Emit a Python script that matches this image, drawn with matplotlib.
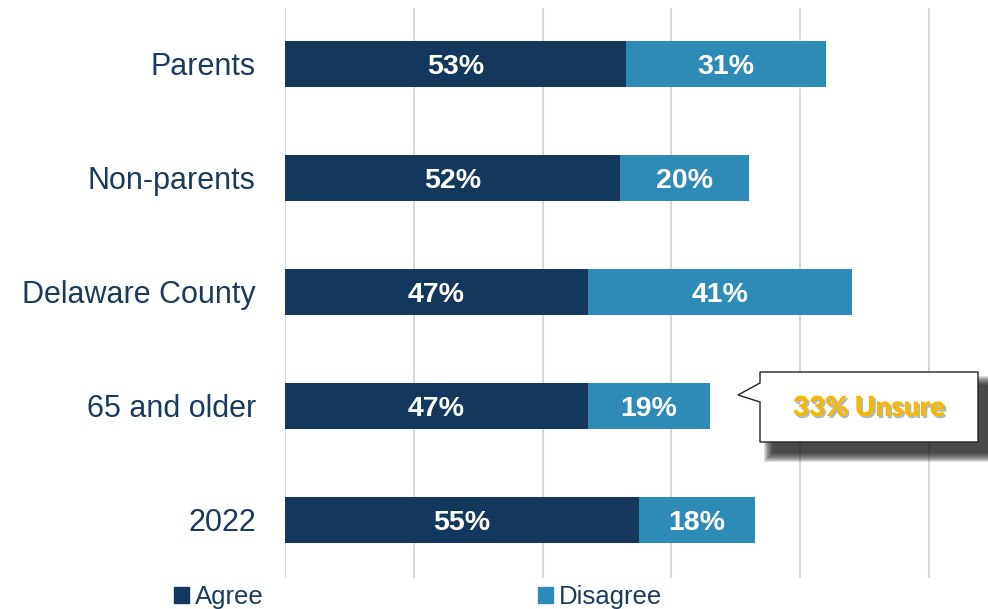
import matplotlib.pyplot as plt
import matplotlib.patches as mpatches
import matplotlib.patheffects as pe

# data
groups = ['Parents', 'Non-parents', 'Delaware County', '65 and older', '2022']
agree = [53, 52, 47, 47, 55]
disagree = [31, 20, 41, 19, 18]
unsure_note = '33% Unsure'

navy = '#14375E'
blue = '#2E8BB8'
label_col = '#1B3A5C'

plt.rcParams['font.family'] = ['Liberation Sans', 'DejaVu Sans']

W, H = 988, 609
fig = plt.figure(figsize=(W / 100, H / 100), dpi=100)
ax = fig.add_axes([285 / W, 1 - 578 / H, (985 - 285) / W, 570 / H])

y = list(range(len(groups)))
ax.barh(y, agree, height=0.40, color=navy, label='Agree')
ax.barh(y, disagree, left=agree, height=0.40, color=blue, label='Disagree')

for i in y:
    ax.text(agree[i] / 2, i, f'{agree[i]}%', color='white', fontsize=20.5,
            fontweight='bold', ha='center', va='center_baseline')
    ax.text(agree[i] + disagree[i] / 2, i, f'{disagree[i]}%', color='white',
            fontsize=20.5, fontweight='bold', ha='center', va='center_baseline')

ax.set_xlim(0, 700 / 6.44)
ax.set_ylim(4.509, -0.491)
ax.set_xticks([0, 20, 40, 60, 80, 100])
ax.set_xticklabels([])
ax.xaxis.grid(True, color='#D9D9D9', linewidth=1.5)
ax.set_axisbelow(True)
ax.tick_params(length=0)
ax.set_yticks(y)
ax.set_yticklabels(groups, fontsize=22, color=label_col, va='center_baseline')
ax.tick_params(axis='y', pad=21)
for s in ax.spines.values():
    s.set_visible(False)

# legend, one entry each
h_a = mpatches.Patch(color=navy)
h_d = mpatches.Patch(color=blue)
for h, lab, x in [(h_a, 'Agree', 174), (h_d, 'Disagree', 538)]:
    fig.legend([h], [lab], loc='center left', bbox_to_anchor=(x / W, 1 - 597 / H),
               frameon=False, fontsize=18.5, handlelength=0.6, handleheight=0.6,
               handletextpad=0.2, borderpad=0, borderaxespad=0,
               labelcolor=label_col)

# callout with shadow
bx0, bx1, by0, by1 = 760, 978, 372, 442
tip = (738, 395)
pts = [(bx0, by0), (bx1, by0), (bx1, by1), (bx0, by1), (bx0, 402), tip, (bx0, 383)]
def tofig(p):
    return (p[0] / W, 1 - p[1] / H)

for k in range(10):
    g = 10 - k
    sh = [(bx0 + 14 - g, by0 + 14 - g), (bx1 + 9 + g, by0 + 14 - g),
          (bx1 + 9 + g, by1 + 10 + g), (bx0 + 14 - g, by1 + 10 + g)]
    fig.patches.append(mpatches.Polygon([tofig(p) for p in sh], closed=True,
                                        transform=fig.transFigure,
                                        facecolor='#1a1a1a', edgecolor='none',
                                        alpha=0.14))
fig.patches.append(mpatches.Polygon([tofig(p) for p in pts], closed=True,
                                    transform=fig.transFigure, facecolor='white',
                                    edgecolor='#222222', linewidth=1.0))
fig.text((bx0 + bx1) / 2 / W, 1 - 408 / H, unsure_note, ha='center',
         va='center', fontsize=20, fontweight='heavy', color='#F5B700',
         family=['Lato', 'DejaVu Sans'],
         path_effects=[pe.SimplePatchShadow(offset=(1.5, -1.5), shadow_rgbFace='#888888', alpha=0.6),
                       pe.Normal()])

fig.savefig('out.png', dpi=100)
